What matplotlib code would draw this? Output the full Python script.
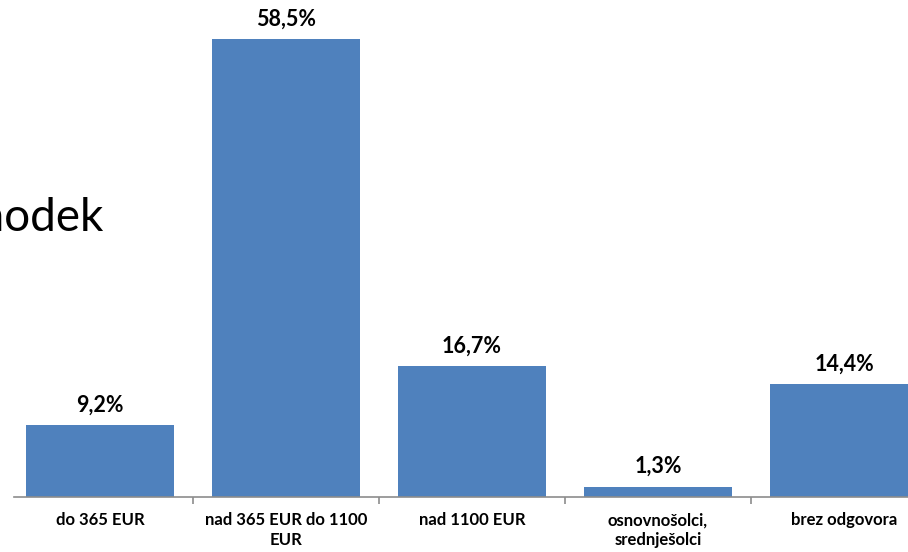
import matplotlib
matplotlib.use("Agg")
import matplotlib.pyplot as plt
import numpy as np

categories = ["do 365 EUR", "nad 365 EUR do 1100\nEUR", "nad 1100 EUR",
              "osnovnošolci,\nsrednješolci", "brez odgovora"]
values = [9.2, 58.5, 16.7, 1.3, 14.4]
value_labels = ["9,2%", "58,5%", "16,7%", "1,3%", "14,4%"]
title_text = "dohodek"

plt.rcParams['font.family'] = ['Lato', 'DejaVu Sans']

fig = plt.figure(figsize=(9.08, 5.52), dpi=100)
ax = fig.add_axes([14 / 908, 55 / 552, 1 - 14 / 908, 1 - 55 / 552])

x = np.arange(len(categories))
ax.bar(x, values, width=0.8, color="#4F81BD", zorder=2)

for xi, v, lab in zip(x, values, value_labels):
    ax.annotate(lab, (xi, v), xytext=(0, 7), textcoords="offset points",
                ha="center", va="bottom", fontsize=15.5, fontweight="bold")

ax.set_xlim(-0.462, 4.344)
ax.set_ylim(0, 63.5)

for s in ["top", "right", "left"]:
    ax.spines[s].set_visible(False)
ax.spines["bottom"].set_color("#8c8c8c")
ax.spines["bottom"].set_linewidth(1.2)
ax.set_yticks([])

ax.set_xticks(x)
ax.set_xticklabels(categories, fontsize=12, fontweight="bold", linespacing=1.3)
ax.tick_params(axis="x", which="major", length=0, pad=11)
ax.set_xticks(np.arange(0.5, len(categories) - 0.5, 1.0), minor=True)
ax.tick_params(axis="x", which="minor", length=5, color="#8c8c8c", width=1.2,
               direction="out")

fig.text(103 / 908, 1 - 231 / 552, title_text, ha="right", va="baseline",
         fontsize=33, color="black")

fig.savefig("out.png", dpi=100)
